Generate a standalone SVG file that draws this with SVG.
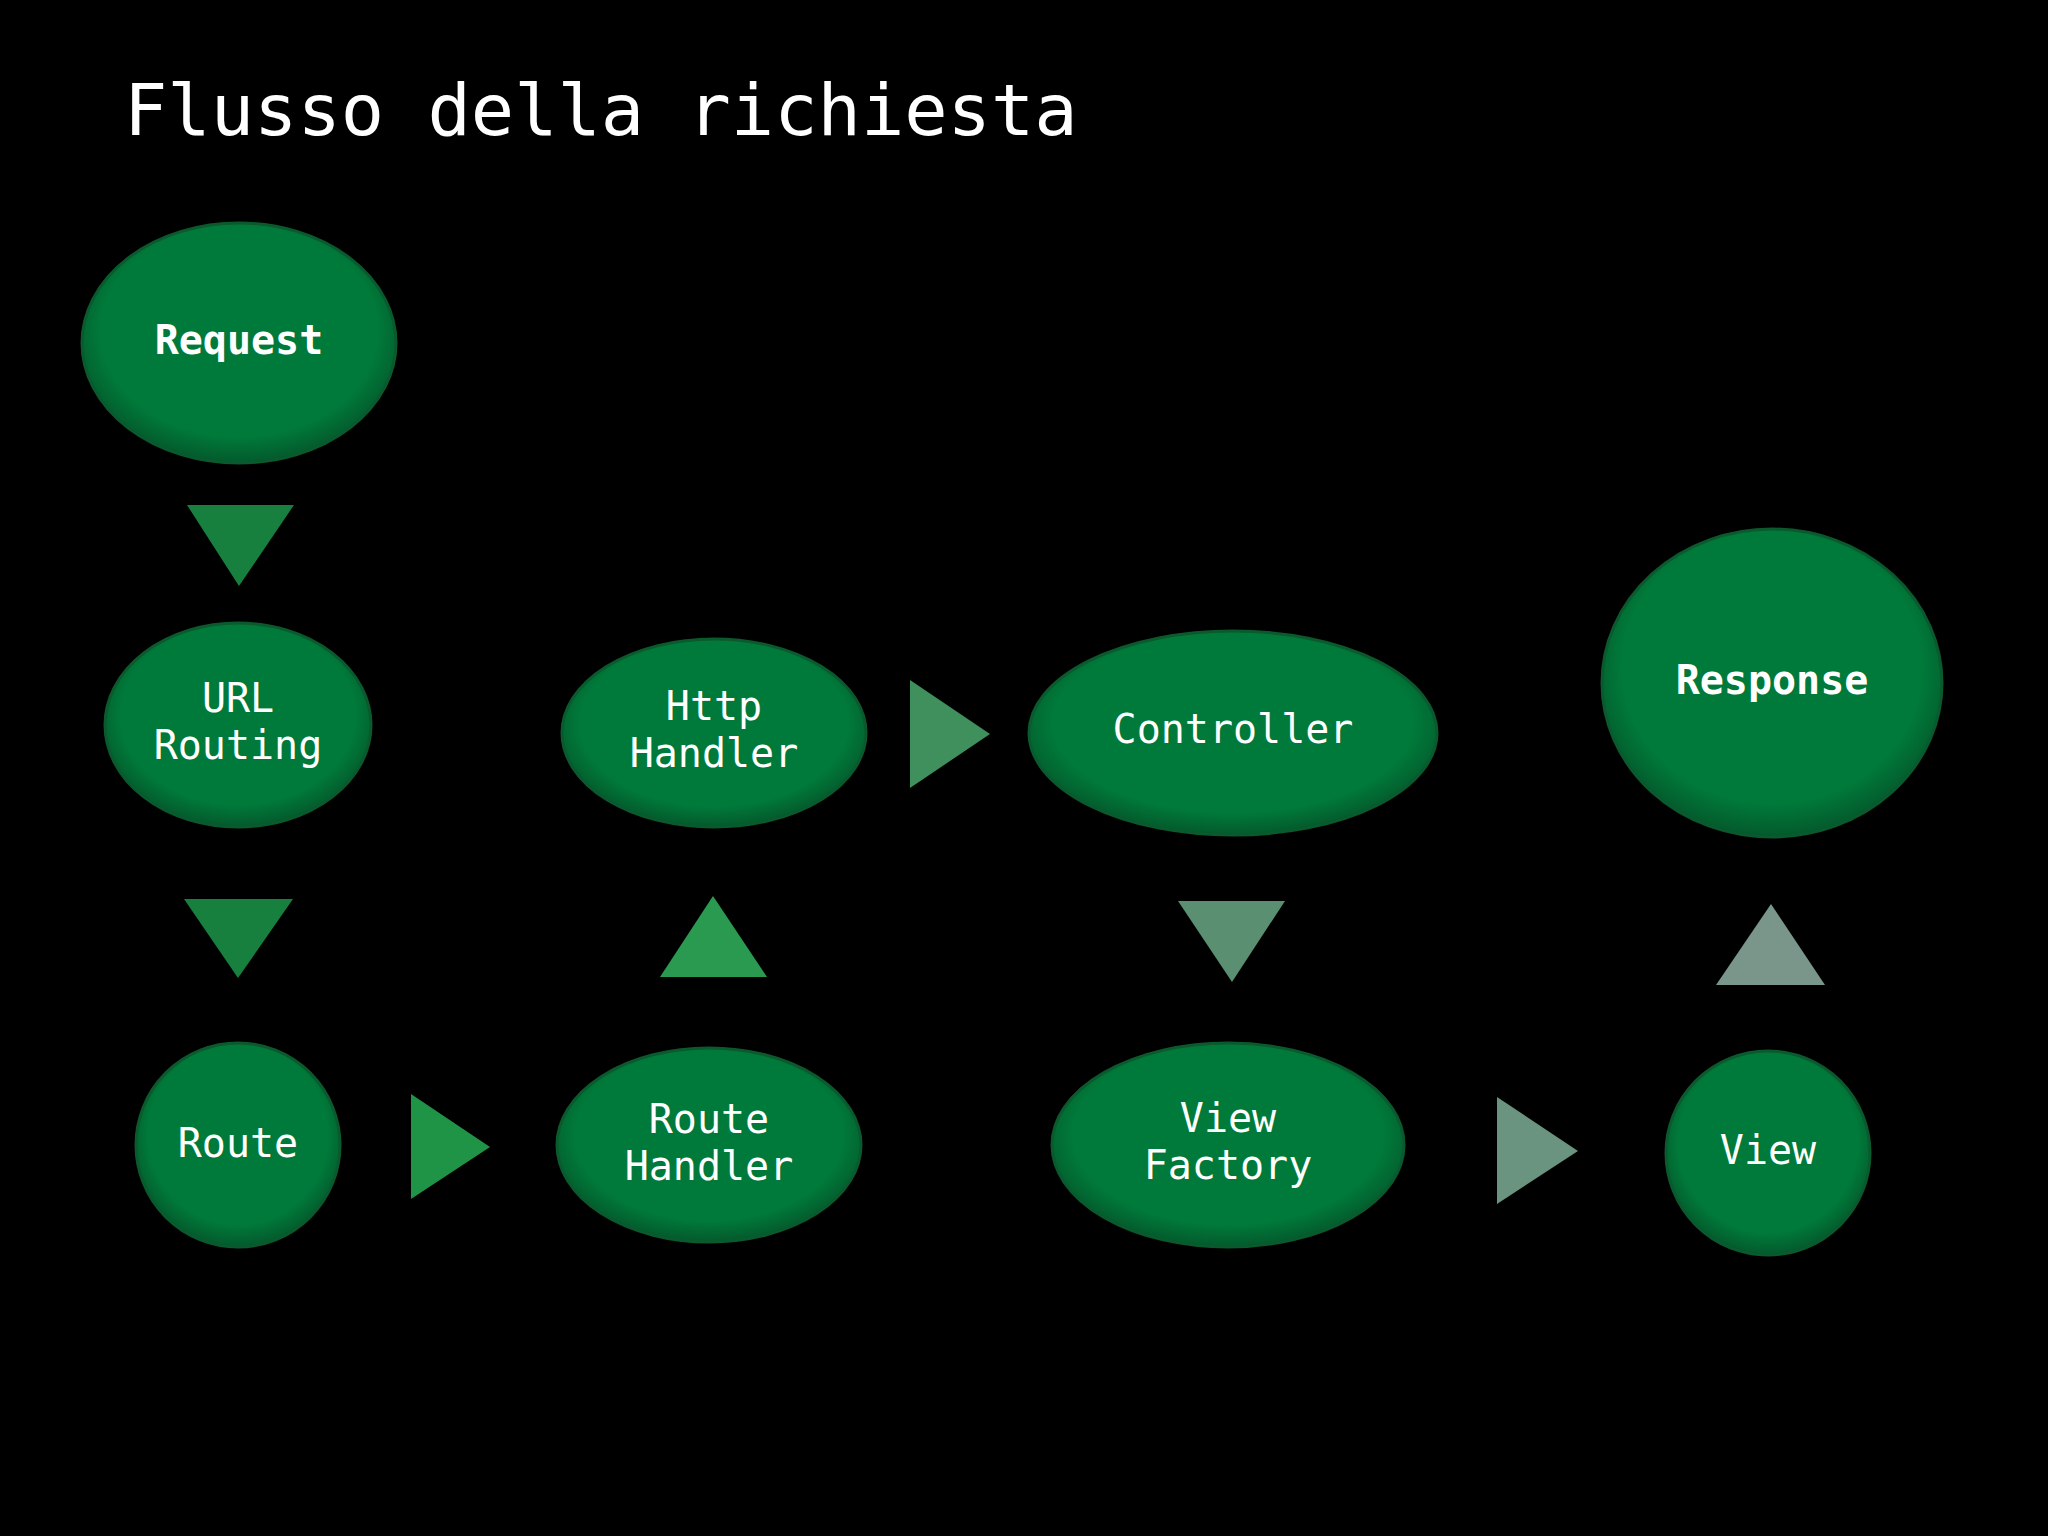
<svg xmlns="http://www.w3.org/2000/svg" width="2048" height="1536" viewBox="0 0 2048 1536">
<defs>
<radialGradient id="g" cx="50%" cy="45%" r="55%">
<stop offset="0.8" stop-color="#007a3a"/><stop offset="1" stop-color="#04592c"/>
</radialGradient>
<style>
.n{fill:url(#g);stroke:#0a5a2e;stroke-width:3}
.t{fill:#fff;font-family:"DejaVu Sans Mono","Liberation Mono",monospace;font-size:40px;text-anchor:middle;dominant-baseline:middle}
.b{font-weight:bold}
</style>
</defs>
<rect width="2048" height="1536" fill="#000"/>
<text x="124" y="135" fill="#fff" font-family="DejaVu Sans Mono,Liberation Mono,monospace" font-size="72">Flusso della richiesta</text>
<g id="connectors">
<polygon points="187,505 294,505 239,586" fill="#17803f"/>
<polygon points="184,899 293,899 238,978" fill="#17803f"/>
<polygon points="411,1094 490,1147 411,1199" fill="#1f9446"/>
<polygon points="660,977 767,977 713,896" fill="#2a9a50"/>
<polygon points="910,680 990,734 910,788" fill="#3f905c"/>
<polygon points="1178,901 1285,901 1232,982" fill="#5a8f72"/>
<polygon points="1497,1097 1578,1151 1497,1204" fill="#6a9380"/>
<polygon points="1716,985 1825,985 1771,904" fill="#7a968a"/>
</g>
<g id="request"><ellipse class="n" cx="239" cy="343" rx="157" ry="120"/><text class="t b" x="239" y="343">Request</text></g>
<g id="url"><ellipse class="n" cx="238" cy="725" rx="133" ry="102"/><text class="t" x="238" y="701">URL</text><text class="t" x="238" y="748">Routing</text></g>
<g id="route"><ellipse class="n" cx="238" cy="1145" rx="102" ry="102"/><text class="t" x="238" y="1146">Route</text></g>
<g id="routehandler"><ellipse class="n" cx="709" cy="1145" rx="152" ry="97"/><text class="t" x="709" y="1122">Route</text><text class="t" x="709" y="1169">Handler</text></g>
<g id="http"><ellipse class="n" cx="714" cy="733" rx="152" ry="94"/><text class="t" x="714" y="709">Http</text><text class="t" x="714" y="756">Handler</text></g>
<g id="controller"><ellipse class="n" cx="1233" cy="733" rx="204" ry="102"/><text class="t" x="1233" y="732">Controller</text></g>
<g id="viewfactory"><ellipse class="n" cx="1228" cy="1145" rx="176" ry="102"/><text class="t" x="1228" y="1121">View</text><text class="t" x="1228" y="1168">Factory</text></g>
<g id="view"><ellipse class="n" cx="1768" cy="1153" rx="102" ry="102"/><text class="t" x="1768" y="1153">View</text></g>
<g id="response"><ellipse class="n" cx="1772" cy="683" rx="170" ry="154"/><text class="t b" x="1772" y="683">Response</text></g>
</svg>
